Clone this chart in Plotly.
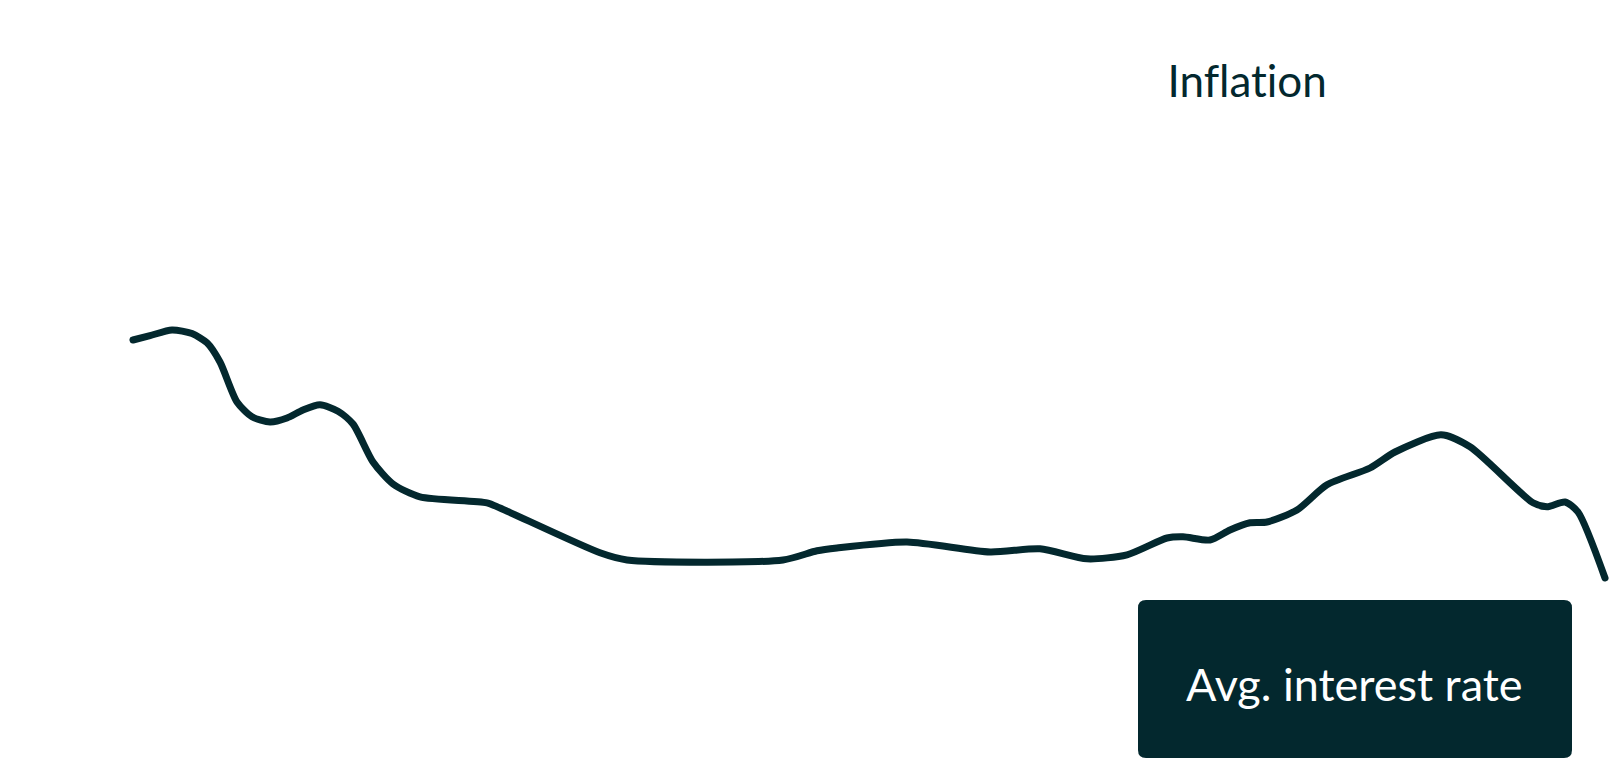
import plotly.graph_objects as go

# Time index (arbitrary units along the horizontal axis)
periods = [133, 150, 172, 192, 207, 220, 237, 252, 270, 287, 303, 320, 338, 353,
           373, 393, 420, 487, 500, 600, 627, 783, 817, 837, 907, 990, 1040, 1087,
           1127, 1167, 1183, 1210, 1230, 1250, 1267, 1297, 1327, 1370, 1395, 1441,
           1470, 1533, 1547, 1565, 1578, 1605]

# Inflation rate values (%)
inflation = [10.50, 10.61, 10.75, 10.66, 10.43, 9.95, 8.95, 8.58, 8.45, 8.55, 8.75,
             8.88, 8.72, 8.40, 7.45, 6.90, 6.58, 6.43, 6.30, 5.18, 5.00, 5.00, 5.23,
             5.30, 5.45, 5.20, 5.28, 5.03, 5.13, 5.55, 5.58, 5.50, 5.75, 5.93, 5.95,
             6.25, 6.88, 7.30, 7.70, 8.13, 7.83, 6.43, 6.33, 6.45, 6.20, 4.55]

series_label = "Inflation"
box_label = "Avg. interest rate"

DARK = "#03282E"
W, H = 1610, 760

fig = go.Figure()
fig.add_trace(go.Scatter(
    x=periods, y=inflation, mode="lines",
    line=dict(color=DARK, width=7, shape="spline", smoothing=0.7),
    hoverinfo="skip", showlegend=False, cliponaxis=False,
))

# Rounded box (paper coords)
x0, x1 = 1138 / W, 1572 / W
y0, y1 = 1 - 758 / H, 1 - 600 / H
rx, ry = 8 / W, 8 / H
path = (f"M {x0+rx},{y1} L {x1-rx},{y1} Q {x1},{y1} {x1},{y1-ry} "
        f"L {x1},{y0+ry} Q {x1},{y0} {x1-rx},{y0} L {x0+rx},{y0} "
        f"Q {x0},{y0} {x0},{y0+ry} L {x0},{y1-ry} Q {x0},{y1} {x0+rx},{y1} Z")
fig.add_shape(type="path", path=path, xref="paper", yref="paper",
              fillcolor=DARK, line=dict(width=0), layer="below")

fig.add_annotation(text=series_label, xref="paper", yref="paper",
                   x=1247 / W, y=1 - 80 / H, xanchor="center", yanchor="middle",
                   showarrow=False, font=dict(family="Lato", size=44, color=DARK))
fig.add_annotation(text=box_label, xref="paper", yref="paper",
                   x=1354 / W, y=1 - 684 / H, xanchor="center", yanchor="middle",
                   showarrow=False, font=dict(family="Lato", size=45, color="white"))

fig.update_layout(
    width=W, height=H,
    margin=dict(l=0, r=0, t=0, b=0),
    paper_bgcolor="white", plot_bgcolor="white",
    xaxis=dict(range=[0, W], visible=False, fixedrange=True),
    yaxis=dict(range=[0, 19], visible=False, fixedrange=True),
    showlegend=False, hovermode=False,
)

post = ("document.body.style.margin='0';"
        "document.querySelectorAll('.js-line').forEach(function(p){"
        "p.style.strokeLinecap='round';p.style.strokeLinejoin='round';});"
        "document.querySelectorAll('.annotation-text').forEach(function(t){"
        "t.style.fontVariantLigatures='none';t.style.fontFeatureSettings='\"liga\" 0';});")
fig.write_html("out.html", config={"displayModeBar": False}, post_script=post)
